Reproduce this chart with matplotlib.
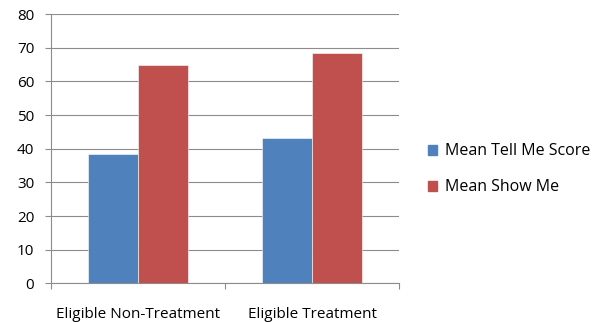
import numpy as np
import matplotlib.pyplot as plt
from matplotlib.patches import Patch

categories = ['Eligible Non-Treatment', 'Eligible Treatment']
tell_me = [38.3, 43.2]
show_me = [65.0, 68.3]
series_names = ['Mean Tell Me Score', 'Mean Show Me']
colors = ['#4F81BD', '#C0504D']

plt.rcParams['font.family'] = ['Open Sans', 'DejaVu Sans']

fig = plt.figure(figsize=(6, 3.22), dpi=100)
ax = fig.add_axes([0.085, 0.12, 0.58, 0.8365])

x = np.arange(len(categories))
w = 1 / 3.5
ax.bar(x - w / 2, tell_me, w, color=colors[0], edgecolor='white', linewidth=0.4, zorder=3)
ax.bar(x + w / 2, show_me, w, color=colors[1], edgecolor='white', linewidth=0.4, zorder=3)

ax.set_xlim(-0.5, 1.5)
ax.set_ylim(0, 80)
ax.set_yticks(range(0, 81, 10))
ax.yaxis.grid(True, color='#8c8c8c', linewidth=0.8, zorder=0)
for s in ['top', 'right']:
    ax.spines[s].set_visible(False)
for s in ['left', 'bottom']:
    ax.spines[s].set_color('#8c8c8c')
    ax.spines[s].set_linewidth(0.8)

# category ticks at boundaries, labels at centers
ax.set_xticks([-0.5, 0.5, 1.5])
ax.set_xticklabels([])
ax.set_xticks(x, minor=True)
ax.set_xticklabels(categories, minor=True, fontsize=11)
ax.tick_params(axis='x', which='major', length=4, color='#8c8c8c', direction='out')
ax.tick_params(axis='x', which='minor', length=0, pad=17)
ax.tick_params(axis='y', length=4, color='#8c8c8c', labelsize=11, pad=8)

handles = [Patch(color=c) for c in colors]
fig.legend(handles, series_names, loc='center left', bbox_to_anchor=(0.713, 0.474),
           frameon=False, fontsize=11.5, handlelength=0.6, handleheight=0.6,
           handletextpad=0.45, labelspacing=1.25, borderpad=0, borderaxespad=0)

fig.savefig('out.png', dpi=100)
